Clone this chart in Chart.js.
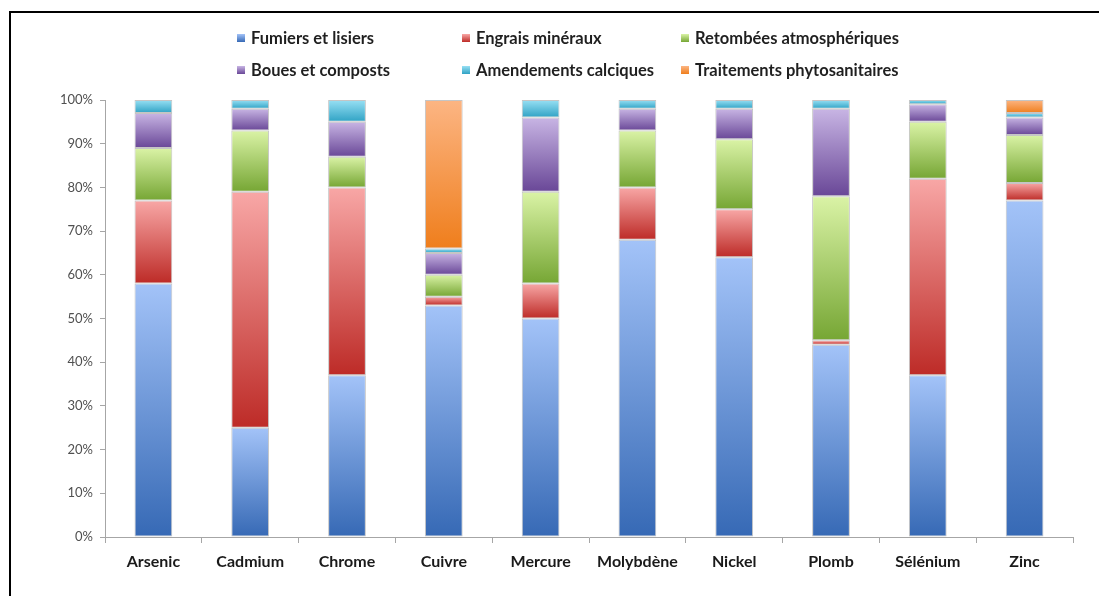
<!DOCTYPE html>
<html lang="fr">
<head>
<meta charset="utf-8">
<title>Origine des apports de métaux</title>
<script src="https://cdn.jsdelivr.net/npm/chart.js@4.4.1/dist/chart.umd.min.js"></script>
<style>
  html, body { margin: 0; padding: 0; background: #ffffff; }
  #wrap { position: relative; width: 1099px; height: 596px; }
</style>
</head>
<body>
<div id="wrap"><canvas id="chart" width="1099" height="596"></canvas></div>
<script>
// Catégories (métaux) et parts de chaque source d'apport, en %
const metaux = ['Arsenic', 'Cadmium', 'Chrome', 'Cuivre', 'Mercure', 'Molybdène', 'Nickel', 'Plomb', 'Sélénium', 'Zinc'];

const sources = ['Fumiers et lisiers', 'Engrais minéraux', 'Retombées atmosphériques',
                 'Boues et composts', 'Amendements calciques', 'Traitements phytosanitaires'];

const fumiers     = [58, 25, 37, 53, 50, 68, 64, 44, 37, 77];
const engrais     = [19, 54, 43,  2,  8, 12, 11,  1, 45,  4];
const retombees   = [12, 14,  7,  5, 21, 13, 16, 33, 13, 11];
const boues       = [ 8,  5,  8,  5, 17,  5,  7, 20,  4,  4];
const amendements = [ 3,  2,  5,  1,  4,  2,  2,  2,  1,  1];
const traitements = [ 0,  0,  0, 34,  0,  0,  0,  0,  0,  3];

const yTicks = [0, 10, 20, 30, 40, 50, 60, 70, 80, 90, 100];

const series = [fumiers, engrais, retombees, boues, amendements, traitements];

// Dégradés : couleur sombre en bas du segment, claire en haut
const gradients = [
  ['#3669b5', '#a3c3f8'],
  ['#bd2b27', '#f8a7a6'],
  ['#76a634', '#daf3a6'],
  ['#694797', '#c8b5e4'],
  ['#2fa2c4', '#98e0f4'],
  ['#ef7e1c', '#fcb583']
];

function segmentFill(dsIndex) {
  return (ctx) => {
    const chart = ctx.chart;
    const area = chart.chartArea;
    const y = chart.scales && chart.scales.y;
    if (!area || !y || ctx.type !== 'data') return gradients[dsIndex][0];
    const i = ctx.dataIndex;
    let start = 0;
    for (let k = 0; k < dsIndex; k++) start += series[k][i] || 0;
    const end = start + (series[dsIndex][i] || 0);
    const p0 = y.getPixelForValue(start);
    const p1 = y.getPixelForValue(end);
    if (!isFinite(p0) || !isFinite(p1) || p0 === p1) return gradients[dsIndex][0];
    const g = chart.ctx.createLinearGradient(0, p0, 0, p1);
    g.addColorStop(0, gradients[dsIndex][0]);
    g.addColorStop(1, gradients[dsIndex][1]);
    return g;
  };
}

const datasets = sources.map((label, d) => ({
  label,
  data: series[d].map(v => (v === 0 ? null : v)),
  backgroundColor: segmentFill(d),
  borderColor: 'rgba(150,150,150,0.55)',
  borderWidth: 1,
  borderSkipped: false,
  barPercentage: 0.39,
  categoryPercentage: 1.0
}));

// Cadre du document et légende sur trois colonnes
const frameAndLegend = {
  id: 'frameAndLegend',
  beforeDraw(chart) {
    const c = chart.ctx;
    c.save();
    c.fillStyle = '#ffffff';
    c.fillRect(0, 0, chart.width, chart.height);
    c.strokeStyle = '#000000';
    c.lineWidth = 2;
    c.beginPath();
    c.moveTo(10, chart.height);
    c.lineTo(10, 12);
    c.lineTo(chart.width, 12);
    c.stroke();
    c.restore();
  },
  afterDraw(chart) {
    const c = chart.ctx;
    const colX = [237, 462, 681];
    const rowY = [38, 70];
    c.save();
    c.font = 'bold 16.5px Lato, "Open Sans", sans-serif';
    c.textBaseline = 'middle';
    c.textAlign = 'left';
    chart.data.datasets.forEach((ds, d) => {
      const x = colX[d % 3];
      const y = rowY[Math.floor(d / 3)];
      const g = c.createLinearGradient(0, y + 4, 0, y - 4);
      g.addColorStop(0, gradients[d][0]);
      g.addColorStop(1, gradients[d][1]);
      c.fillStyle = g;
      c.fillRect(x, y - 4, 8, 8);
      c.fillStyle = '#1f1f1f';
      c.fillText(ds.label, x + 14, y + 1);
    });
    c.restore();
  }
};

new Chart(document.getElementById('chart'), {
  type: 'bar',
  data: { labels: metaux, datasets },
  options: {
    responsive: false,
    animation: false,
    layout: { padding: { top: 100, right: 26, bottom: 0, left: 0 } },
    plugins: {
      legend: { display: false },
      tooltip: { enabled: false }
    },
    scales: {
      x: {
        stacked: true,
        grid: { display: true, drawOnChartArea: false, drawTicks: true, tickLength: 6, color: '#a6a6a6', offset: true },
        border: { display: true, color: '#a6a6a6', width: 1 },
        ticks: {
          color: '#1a1a1a',
          font: { family: 'Lato, "Open Sans", sans-serif', size: 16, weight: 'bold' },
          padding: 9,
          maxRotation: 0,
          autoSkip: false
        },
        afterFit(scale) { scale.height = 59; }
      },
      y: {
        stacked: true,
        min: 0,
        max: 100,
        afterBuildTicks(scale) { scale.ticks = yTicks.map(v => ({ value: v })); },
        grid: { display: true, drawOnChartArea: false, drawTicks: true, tickLength: 5, color: '#a6a6a6' },
        border: { display: true, color: '#a6a6a6', width: 1 },
        ticks: {
          color: '#505050',
          font: { family: 'Lato, "Open Sans", sans-serif', size: 13 },
          padding: 7,
          callback: (v) => v + '%'
        },
        afterFit(scale) { scale.width = 105; }
      }
    }
  },
  plugins: [frameAndLegend]
});
</script>
</body>
</html>
